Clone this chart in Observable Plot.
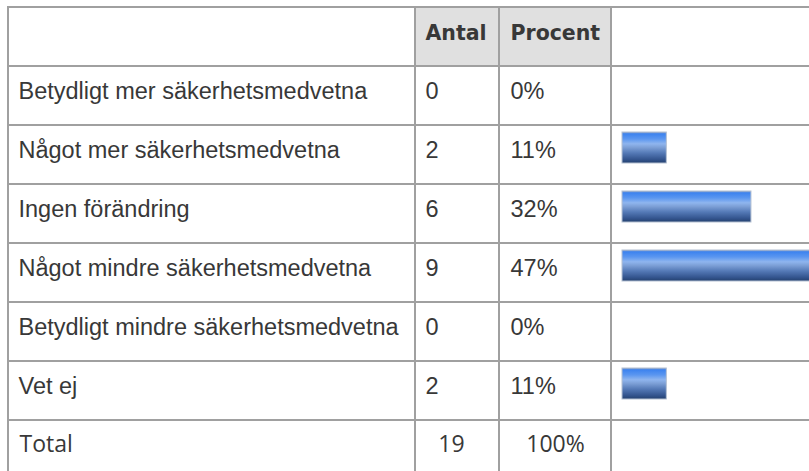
<!DOCTYPE html>
<html><head><meta charset="utf-8">
<script src="https://cdn.jsdelivr.net/npm/d3@7"></script>
<script src="https://cdn.jsdelivr.net/npm/@observablehq/plot@0.6"></script>
<style>
html,body{margin:0;padding:0;background:#fff;}
#wrap{position:relative;width:809px;height:471px;overflow:hidden;}
#wrap svg{position:absolute;top:0;left:0;}
</style></head><body><div id="wrap"></div>
<script>
// ---- data ----
const categories = [
  "Betydligt mer säkerhetsmedvetna",
  "Något mer säkerhetsmedvetna",
  "Ingen förändring",
  "Något mindre säkerhetsmedvetna",
  "Betydligt mindre säkerhetsmedvetna",
  "Vet ej"
];
const counts = [0, 2, 6, 9, 0, 2];
const percents = [0, 11, 32, 47, 0, 11];
const headers = ["Antal", "Procent"];
const totalLabel = "Total";
const totalCount = 19;
const totalPercent = 100;

// ---- layout ----
const W = 809, H = 471;
const colEdges = [8, 415, 499, 611, 840];
const textX = [18, 425, 510];
const rows = ["__head", ...categories, "__total"];
const yScale = {type: "band", domain: rows, range: [7, 7 + rows.length * 59], padding: 0, axis: null};
const grid = "#a0a0a0";
const ink = "#383838";
const bodyFont = "'Liberation Sans', Arial, sans-serif";

const cells = rows.flatMap(r => [0, 1, 2, 3].map(i => ({row: r, c: i})));
const headCells = [1, 2];
const bodyRows = categories.map((c, i) => ({c, n: counts[i], p: percents[i]}));

const table = Plot.plot({
  width: W, height: H,
  margin: 0,
  x: {type: "identity", axis: null},
  y: yScale,
  style: {background: "white"},
  marks: [
    Plot.barX(headCells, {x1: c => colEdges[c], x2: c => colEdges[c + 1], y: () => "__head", fill: "#e0e0e0"}),
    Plot.barX(cells, {x1: d => colEdges[d.c], x2: d => colEdges[d.c + 1], y: "row", fill: "none", stroke: grid, strokeWidth: 2}),
    Plot.text(headers, {x: (d, i) => textX[i + 1], y: () => "__head", text: d => d, textAnchor: "start", lineAnchor: "bottom", dy: 2.5,
      fontFamily: "'DejaVu Sans', Verdana, sans-serif", fontWeight: "bold", fontSize: 20.5, fill: ink}),
    Plot.text(bodyRows, {x: () => textX[0], y: "c", text: "c", textAnchor: "start", lineAnchor: "bottom", dy: 2.5,
      fontFamily: bodyFont, fontSize: 23.5, fill: ink}),
    Plot.text(bodyRows, {x: () => textX[1], y: "c", text: d => String(d.n), textAnchor: "start", lineAnchor: "bottom", dy: 2.5,
      fontFamily: bodyFont, fontSize: 23.5, fill: ink}),
    Plot.text(bodyRows, {x: () => textX[2], y: "c", text: d => d.p + "%", textAnchor: "start", lineAnchor: "bottom", dy: 2.5,
      fontFamily: bodyFont, fontSize: 23.5, fill: ink}),
    Plot.text([totalLabel], {x: () => textX[0] + 1, y: () => "__total", text: d => d, textAnchor: "start", lineAnchor: "bottom", dy: 1.5,
      fontFamily: "'Open Sans', sans-serif", fontSize: 23, fill: ink}),
    Plot.text([totalCount], {x: () => (colEdges[1] + colEdges[2]) / 2 - 6, y: () => "__total", text: d => String(d), textAnchor: "middle", lineAnchor: "bottom", dy: 1.5,
      fontFamily: "'Open Sans', sans-serif", fontSize: 23, fill: ink}),
    Plot.text([totalPercent], {x: () => (colEdges[2] + colEdges[3]) / 2, y: () => "__total", text: d => d + "%", textAnchor: "middle", lineAnchor: "bottom", dy: 1.5,
      fontFamily: "'Open Sans', sans-serif", fontSize: 23, fill: ink})
  ]
});

const bars = Plot.plot({
  width: W, height: H,
  margin: 0,
  x: {domain: [0, 100], range: [622, 622 + 403], axis: null},
  y: yScale,
  style: {background: "transparent", overflow: "hidden"},
  marks: [
    Plot.barX(bodyRows.filter(d => d.p > 0), {x: "p", y: "c", insetTop: 7, insetBottom: 21,
      fill: "url(#barGrad)", stroke: "#b4c0d2", strokeWidth: 1})
  ]
});

const defs = d3.select(bars).insert("defs", ":first-child");
const g = defs.append("linearGradient").attr("id", "barGrad").attr("x1", 0).attr("y1", 0).attr("x2", 0).attr("y2", 1);
[["0%", "#8da2c6"], ["6%", "#3d83ef"], ["22%", "#5a96f0"], ["38%", "#8fb5ee"], ["50%", "#7c9fd6"], ["68%", "#5479b6"], ["88%", "#34558f"], ["100%", "#24416f"]]
  .forEach(([o, c]) => g.append("stop").attr("offset", o).attr("stop-color", c));

const wrap = document.getElementById("wrap");
wrap.appendChild(table);
wrap.appendChild(bars);
</script>
</body></html>
